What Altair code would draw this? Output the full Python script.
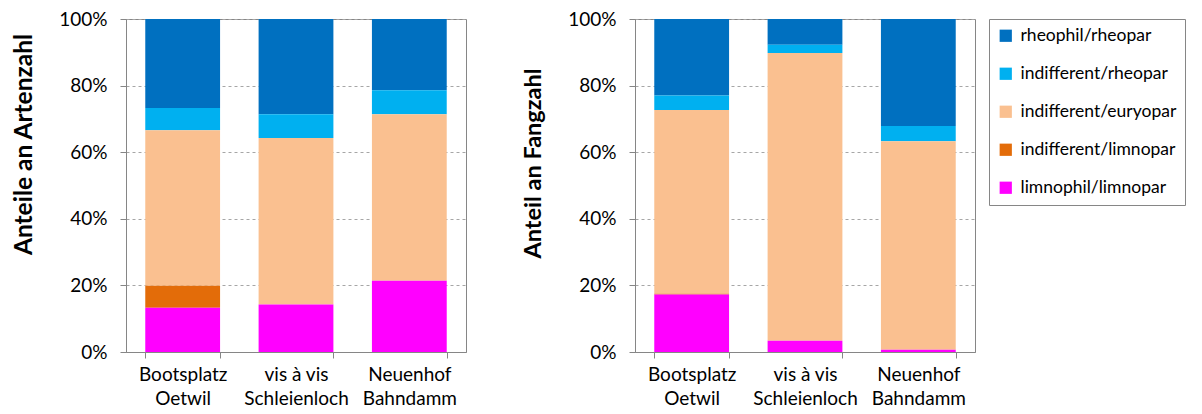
import altair as alt
import pandas as pd

sites = ["Bootsplatz\nOetwil", "vis à vis\nSchleienloch", "Neuenhof\nBahndamm"]
groups = ["rheophil/rheopar", "indifferent/rheopar", "indifferent/euryopar",
          "indifferent/limnopar", "limnophil/limnopar"]
colors = ["#0070C0", "#00B0F0", "#FAC090", "#E36C09", "#FF00FF"]
stack_idx = [4, 3, 2, 1, 0]

# percent shares per group, one value per site
arten_rheophil = [26.7, 28.6, 21.4]
arten_ind_rheo = [6.7, 7.1, 7.2]
arten_ind_eury = [46.7, 50.0, 50.0]
arten_ind_limn = [6.6, 0.0, 0.0]
arten_limnophil = [13.3, 14.3, 21.4]

fang_rheophil = [23.0, 7.7, 32.1]
fang_ind_rheo = [4.3, 2.5, 4.6]
fang_ind_eury = [55.2, 86.4, 62.6]
fang_ind_limn = [0.2, 0.0, 0.0]
fang_limnophil = [17.3, 3.4, 0.7]


def build(series):
    rows = []
    for g, idx, vals in zip(groups, stack_idx, series):
        for s, v in zip(sites, vals):
            rows.append({"site": s, "group": g, "idx": idx, "value": v / 100})
    return pd.DataFrame(rows)


df_arten = build([arten_rheophil, arten_ind_rheo, arten_ind_eury, arten_ind_limn, arten_limnophil])
df_fang = build([fang_rheophil, fang_ind_rheo, fang_ind_eury, fang_ind_limn, fang_limnophil])


def panel(df, title, title_size, title_y):
    return alt.Chart(df).mark_bar().encode(
        x=alt.X("site:N", sort=sites, title=None,
                scale=alt.Scale(paddingInner=0.34, paddingOuter=0.17),
                axis=alt.Axis(labelAngle=0, labelExpr="split(datum.label, '\\n')",
                              tickBand="extent", grid=False, labelPadding=7,
                              labelLineHeight=24, tickSize=6)),
        y=alt.Y("value:Q", stack="zero", scale=alt.Scale(domain=[0, 1]),
                axis=alt.Axis(format="%", values=[0, 0.2, 0.4, 0.6, 0.8, 1.0],
                              title=title, grid=True, tickSize=6,
                              labelPadding=13, titlePadding=22,
                              titleFontSize=title_size, titleY=title_y)),
        color=alt.Color("group:N", scale=alt.Scale(domain=groups, range=colors),
                        legend=alt.Legend(title=None)),
        order=alt.Order("idx:Q"),
    ).properties(width=340, height=333)


chart = alt.hconcat(
    panel(df_arten, "Anteile an Artenzahl", 24.5, 125),
    panel(df_fang, "Anteil an Fangzahl", 23.5, 144),
    spacing=54,
).properties(
    padding={"left": 3, "top": 1, "right": 0, "bottom": 0}
).configure_view(
    stroke="#868686", strokeWidth=1
).configure_axis(
    domainColor="#868686", tickColor="#868686", gridColor="#a6a6a6",
    gridDash=[3, 3], labelFont="Lato", labelFontSize=19, labelColor="#000000",
    titleFont="Lato", titleFontWeight="bold", titleColor="#000000",
).configure_legend(
    orient="right", offset=13, strokeColor="#868686", padding=8,
    labelFont="Lato", labelFontSize=17.5, labelColor="#000000", labelLimit=0,
    symbolType="square", symbolSize=150, symbolStrokeWidth=0,
    rowPadding=19, labelOffset=6,
)

chart.save("out.html", embed_options={"renderer": "svg", "actions": False})
